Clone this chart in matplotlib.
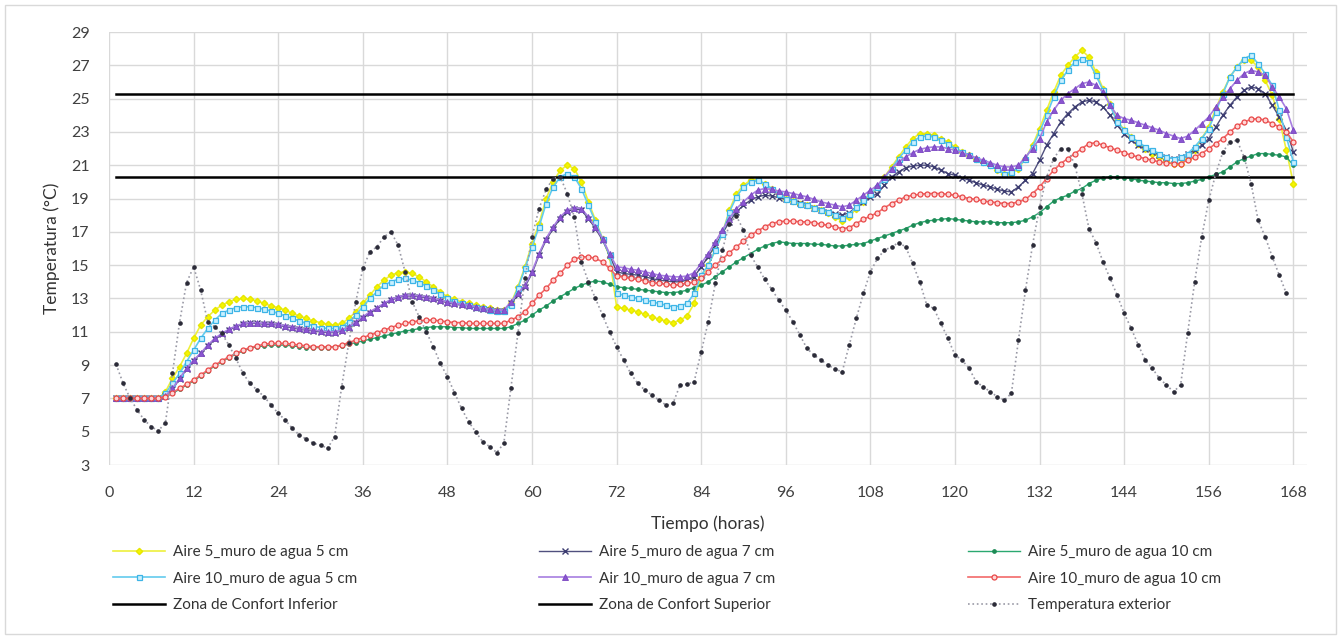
import numpy as np
import matplotlib
matplotlib.use("Agg")
import matplotlib.pyplot as plt
from matplotlib.patches import Rectangle

plt.rcParams['font.family'] = ['Lato', 'DejaVu Sans']

# ---------------- data (hourly values, hour 1..168) ----------------
aire5_agua5 = [
    7.0, 7.0, 7.0, 7.0, 7.0, 7.0, 7.0, 7.4, 8.2, 8.9, 9.7, 10.6,
    11.4, 11.9, 12.3, 12.6, 12.8, 12.95, 13.0, 12.95, 12.85, 12.7, 12.55, 12.45,
    12.3, 12.1, 11.95, 11.8, 11.65, 11.55, 11.45, 11.4, 11.5, 11.8, 12.2, 12.7,
    13.2, 13.7, 14.1, 14.4, 14.55, 14.6, 14.5, 14.3, 14.0, 13.7, 13.4, 13.1,
    12.95, 12.8, 12.7, 12.6, 12.5, 12.4, 12.3, 12.3, 12.7, 13.7, 14.9, 16.3,
    17.5, 19.0, 20.0, 20.7, 21.0, 20.8, 20.0, 18.8, 17.7, 16.6, 15.5, 12.5,
    12.4, 12.3, 12.2, 12.05, 11.9, 11.75, 11.65, 11.55, 11.7, 11.95, 12.7, 14.3,
    15.0, 15.9, 16.9, 18.3, 19.3, 19.8, 20.1, 20.1, 19.9, 19.6, 19.3, 19.0,
    18.85, 18.7, 18.6, 18.45, 18.3, 18.15, 17.9, 17.65, 17.9, 18.4, 18.8, 19.2,
    19.7, 20.3, 20.9, 21.5, 22.1, 22.6, 22.9, 22.9, 22.8, 22.6, 22.4, 22.1,
    21.8, 21.6, 21.4, 21.2, 21.0, 20.7, 20.45, 20.5, 20.8, 21.4, 22.2, 23.2,
    24.3, 25.4, 26.4, 27.0, 27.5, 27.9, 27.5, 26.6, 25.6, 24.7, 23.7, 23.1,
    22.7, 22.3, 22.0, 21.7, 21.5, 21.25, 21.05, 21.1, 21.4, 21.9, 22.6, 23.3,
    24.4, 25.4, 26.3, 26.9, 27.3, 27.3, 26.9, 26.1, 25.2, 23.8, 21.9, 19.9,
]
aire5_agua7 = [
    7.0, 7.0, 7.0, 7.0, 7.0, 7.0, 7.0, 7.15, 7.55, 8.15, 8.75, 9.25,
    9.7, 10.15, 10.55, 10.85, 11.1, 11.3, 11.45, 11.5, 11.5, 11.45, 11.45, 11.4,
    11.3, 11.25, 11.15, 11.1, 11.05, 11.0, 10.95, 10.95, 11.05, 11.25, 11.55, 11.85,
    12.15, 12.4, 12.65, 12.9, 13.05, 13.15, 13.15, 13.1, 13.05, 12.95, 12.85, 12.75,
    12.65, 12.6, 12.55, 12.45, 12.35, 12.3, 12.25, 12.25, 12.7, 13.2, 13.7, 14.5,
    15.6, 16.5, 17.2, 17.8, 18.2, 18.4, 18.3, 17.8, 17.2, 16.5, 15.6, 14.6,
    14.5, 14.45, 14.4, 14.3, 14.2, 14.1, 14.05, 14.0, 14.0, 14.1, 14.3, 14.9,
    15.5, 16.2, 16.9, 17.6, 18.2, 18.6, 18.9, 19.1, 19.2, 19.15, 19.05, 18.95,
    18.85, 18.75, 18.6, 18.45, 18.3, 18.2, 18.1, 18.0, 18.15, 18.5, 18.8, 19.1,
    19.3, 19.8, 20.3, 20.6, 20.85, 20.95, 21.0, 21.0, 20.9, 20.7, 20.5, 20.4,
    20.25, 20.1, 19.95, 19.8, 19.7, 19.55, 19.45, 19.4, 19.7, 20.1, 20.5, 21.3,
    22.2, 22.9, 23.6, 24.1, 24.5, 24.8, 24.9, 24.8, 24.5, 24.0, 23.4, 22.9,
    22.5, 22.2, 21.95, 21.8, 21.6, 21.5, 21.4, 21.5, 21.7, 21.9, 22.2, 22.6,
    23.3, 24.0, 24.6, 25.1, 25.5, 25.7, 25.6, 25.3, 24.6, 23.9, 23.1, 21.8,
]
aire5_agua10 = [
    7.0, 7.0, 7.0, 7.0, 7.0, 7.0, 7.0, 7.1, 7.3, 7.55, 7.8, 8.05,
    8.35, 8.65, 8.95, 9.2, 9.45, 9.65, 9.85, 10.0, 10.1, 10.15, 10.2, 10.2,
    10.2, 10.15, 10.1, 10.05, 10.05, 10.05, 10.05, 10.1, 10.15, 10.25, 10.35, 10.45,
    10.55, 10.65, 10.75, 10.85, 10.95, 11.05, 11.1, 11.2, 11.25, 11.3, 11.3, 11.3,
    11.25, 11.25, 11.2, 11.2, 11.2, 11.2, 11.2, 11.2, 11.3, 11.5, 11.7, 12.0,
    12.3, 12.55, 12.85, 13.1, 13.35, 13.6, 13.8, 13.95, 14.05, 14.0, 13.85, 13.7,
    13.65, 13.6, 13.55, 13.5, 13.45, 13.4, 13.35, 13.35, 13.4, 13.5, 13.65, 13.8,
    14.0, 14.3, 14.6, 14.9, 15.2, 15.45, 15.7, 15.95, 16.15, 16.3, 16.4, 16.35,
    16.3, 16.3, 16.3, 16.25, 16.25, 16.2, 16.15, 16.15, 16.2, 16.25, 16.3, 16.45,
    16.6, 16.75, 16.9, 17.05, 17.2, 17.4, 17.55, 17.65, 17.7, 17.75, 17.8, 17.75,
    17.7, 17.65, 17.6, 17.6, 17.6, 17.55, 17.55, 17.55, 17.6, 17.7, 17.9, 18.15,
    18.5, 18.85, 19.05, 19.2, 19.45, 19.6, 19.9, 20.1, 20.25, 20.3, 20.3, 20.25,
    20.2, 20.1, 20.05, 20.0, 19.95, 19.95, 19.9, 19.9, 19.95, 20.05, 20.15, 20.3,
    20.45, 20.6, 20.9, 21.2, 21.4, 21.55, 21.7, 21.7, 21.65, 21.6, 21.5, 21.0,
]
aire10_agua5 = [
    7.0, 7.0, 7.0, 7.0, 7.0, 7.0, 7.0, 7.3, 7.9, 8.5, 9.2, 9.9,
    10.6, 11.2, 11.7, 12.1, 12.3, 12.45, 12.5, 12.5, 12.45, 12.35, 12.25, 12.1,
    11.95, 11.8, 11.65, 11.5, 11.35, 11.25, 11.2, 11.2, 11.3, 11.6, 12.0, 12.5,
    13.0, 13.4, 13.8, 14.0, 14.15, 14.2, 14.1, 13.95, 13.75, 13.5, 13.25, 13.0,
    12.85, 12.7, 12.6, 12.5, 12.4, 12.3, 12.25, 12.25, 12.6, 13.6, 14.8, 16.1,
    17.3, 18.7, 19.7, 20.3, 20.5, 20.3, 19.6, 18.6, 17.6, 16.6, 15.6, 13.3,
    13.2, 13.1, 13.0, 12.9, 12.8, 12.7, 12.6, 12.5, 12.55, 12.7, 13.3, 14.4,
    15.0, 15.9, 16.9, 18.2, 19.1, 19.7, 20.0, 20.1, 19.9, 19.6, 19.3, 19.0,
    18.85, 18.7, 18.6, 18.45, 18.3, 18.2, 18.0, 17.85, 18.05, 18.5, 18.9, 19.3,
    19.7, 20.2, 20.8, 21.4, 21.9, 22.4, 22.7, 22.75, 22.7, 22.5, 22.3, 22.0,
    21.8, 21.6, 21.4, 21.2, 21.0, 20.75, 20.5, 20.6, 20.9, 21.4, 22.1, 23.0,
    24.0, 25.1, 26.1, 26.7, 27.2, 27.4, 27.2, 26.4, 25.5, 24.6, 23.6, 23.1,
    22.7, 22.4, 22.1, 21.9, 21.7, 21.5, 21.4, 21.5, 21.7, 22.1, 22.6, 23.2,
    24.2, 25.3, 26.3, 26.9, 27.4, 27.6, 27.1, 26.5, 25.8, 24.3, 22.7, 21.2,
]
aire10_agua7 = [
    7.0, 7.0, 7.0, 7.0, 7.0, 7.0, 7.0, 7.15, 7.6, 8.2, 8.8, 9.3,
    9.7, 10.2, 10.6, 10.9, 11.15, 11.35, 11.5, 11.55, 11.55, 11.5, 11.5, 11.45,
    11.35, 11.3, 11.2, 11.15, 11.1, 11.05, 11.0, 11.0, 11.1, 11.3, 11.6, 11.9,
    12.2, 12.45, 12.7, 12.95, 13.1, 13.2, 13.2, 13.15, 13.1, 13.0, 12.9, 12.8,
    12.7, 12.65, 12.6, 12.5, 12.4, 12.35, 12.3, 12.3, 12.8, 13.3, 13.8, 14.6,
    15.7, 16.6, 17.3, 17.9, 18.3, 18.45, 18.4, 17.9, 17.3, 16.6, 15.7, 14.9,
    14.85, 14.75, 14.7, 14.6, 14.5, 14.4, 14.35, 14.3, 14.3, 14.35, 14.55, 15.1,
    15.7, 16.4, 17.1, 17.8, 18.4, 18.8, 19.2, 19.5, 19.6, 19.55, 19.45, 19.4,
    19.3, 19.2, 19.1, 18.95, 18.8, 18.7, 18.6, 18.5, 18.6, 18.9, 19.2, 19.5,
    19.8, 20.3, 20.8, 21.2, 21.5, 21.75, 21.95, 22.05, 22.1, 22.1, 22.0, 21.9,
    21.75, 21.6, 21.45, 21.3, 21.15, 21.0, 20.9, 20.9, 21.0, 21.5, 22.0, 22.6,
    23.6, 24.3, 24.9, 25.3, 25.6, 25.9, 26.0, 25.8, 25.4, 24.6, 24.0, 23.8,
    23.7, 23.55, 23.4, 23.25, 23.1, 22.9, 22.75, 22.6, 22.75, 23.1, 23.5, 23.9,
    24.5, 25.1, 25.6, 26.1, 26.5, 26.7, 26.6, 26.4, 25.7, 25.1, 24.4, 23.1,
]
aire10_agua10 = [
    7.0, 7.0, 7.0, 7.0, 7.0, 7.0, 7.0, 7.1, 7.35, 7.6, 7.85, 8.1,
    8.4, 8.7, 9.0, 9.25, 9.5, 9.7, 9.9, 10.05, 10.15, 10.25, 10.3, 10.3,
    10.3, 10.25, 10.2, 10.15, 10.1, 10.1, 10.1, 10.1, 10.2, 10.35, 10.5, 10.65,
    10.8, 10.95, 11.1, 11.25, 11.4, 11.5, 11.6, 11.65, 11.7, 11.7, 11.65, 11.6,
    11.55, 11.55, 11.5, 11.5, 11.5, 11.5, 11.5, 11.5, 11.7, 11.9, 12.2, 12.7,
    13.2, 13.6, 14.1, 14.5, 15.0, 15.35, 15.5, 15.5, 15.4, 15.2, 14.8, 14.35,
    14.3, 14.2, 14.15, 14.05, 13.95, 13.9, 13.85, 13.8, 13.85, 13.9, 14.0, 14.2,
    14.6, 15.0, 15.35, 15.75, 16.1, 16.45, 16.8, 17.05, 17.3, 17.5, 17.6, 17.65,
    17.65, 17.6, 17.6, 17.55, 17.45, 17.4, 17.3, 17.2, 17.25, 17.5, 17.75, 17.95,
    18.15, 18.45, 18.7, 18.9, 19.1, 19.2, 19.25, 19.3, 19.3, 19.3, 19.25, 19.2,
    19.1, 19.0, 18.95, 18.85, 18.8, 18.75, 18.7, 18.7, 18.8, 18.95, 19.3, 19.7,
    20.2, 20.7, 21.1, 21.4, 21.7, 22.0, 22.3, 22.35, 22.2, 22.05, 21.9, 21.75,
    21.6, 21.5, 21.4, 21.3, 21.2, 21.15, 21.1, 21.1, 21.3, 21.5, 21.7, 22.0,
    22.3, 22.6, 23.0, 23.35, 23.6, 23.75, 23.8, 23.7, 23.5, 23.3, 23.0, 22.4,
]
temp_exterior = [
    9.05, 7.9, 7.0, 6.3, 5.7, 5.3, 5.05, 5.55, 8.5, 11.55, 13.95, 14.9,
    13.5, 11.6, 11.3, 10.9, 10.2, 9.4, 8.5, 7.9, 7.5, 7.1, 6.6, 6.1,
    5.7, 5.2, 4.8, 4.55, 4.3, 4.2, 4.0, 4.7, 7.7, 10.3, 12.8, 14.8,
    15.8, 16.1, 16.7, 17.0, 16.2, 14.6, 12.8, 11.9, 11.0, 10.1, 9.1, 8.3,
    7.35, 6.4, 5.6, 5.0, 4.4, 4.1, 3.75, 4.3, 7.6, 10.9, 14.2, 16.7,
    18.4, 19.55, 20.2, 20.3, 19.3, 17.9, 15.2, 14.0, 13.0, 12.0, 11.0, 10.1,
    9.3, 8.5, 7.9, 7.5, 7.2, 6.9, 6.6, 6.7, 7.8, 7.85, 8.0, 9.8,
    11.6, 13.9, 15.9, 17.5, 17.95, 17.1, 15.6, 14.9, 14.15, 13.55, 12.9, 12.3,
    11.6, 10.8, 10.0, 9.6, 9.3, 9.0, 8.75, 8.6, 10.2, 11.8, 13.3, 14.6,
    15.4, 15.9, 16.1, 16.35, 16.1, 15.1, 14.0, 12.6, 12.4, 11.5, 10.6, 9.6,
    9.3, 8.8, 8.0, 7.7, 7.4, 7.1, 6.9, 7.3, 10.5, 13.5, 16.2, 18.5,
    20.3, 21.4, 22.0, 22.0, 21.0, 19.3, 17.2, 16.35, 15.2, 14.2, 13.2, 12.1,
    11.2, 10.2, 9.3, 8.8, 8.2, 7.8, 7.4, 7.8, 10.9, 14.0, 16.7, 18.9,
    20.5, 21.8, 22.4, 22.5, 21.5, 19.9, 17.7, 16.7, 15.5, 14.4, 13.3,
]
confort_inferior = 20.3
confort_superior = 25.3
hora_inicio, hora_fin = 1, 168
x_ticks = list(range(0, 169, 12))
y_ticks = list(range(3, 30, 2))

labels = ["Aire 5_muro de agua 5 cm", "Aire 5_muro de agua 7 cm",
          "Aire 5_muro de agua 10 cm", "Aire 10_muro de agua 5 cm",
          "Air 10_muro de agua 7 cm", "Aire 10_muro de agua 10 cm",
          "Zona de Confort Inferior", "Zona de Confort Superior",
          "Temperatura exterior"]

# ---------------- figure ----------------
fig = plt.figure(figsize=(13.41, 6.39), dpi=100)
fig.patches.append(Rectangle((0.004, 0.008), 0.992, 0.984, transform=fig.transFigure,
                             fill=False, ec='#d9d9d9', lw=1.0))
ax = fig.add_axes([0.0813, 0.2723, 0.8937, 0.6776])

def hrs(s):
    return np.arange(1, len(s) + 1)

styles = [
    (aire5_agua5, dict(color='#eef03c', marker='D', ms=3.2, mfc='#f5f500', mec='#e6e600', lw=1.2)),
    (aire5_agua7, dict(color='#50507e', marker='x', ms=4.0, mec='#3c3c70', mew=1.0, lw=1.0)),
    (aire5_agua10, dict(color='#2aa870', marker='o', ms=2.4, mfc='#1d8a55', mec='#1d8a55', lw=1.0)),
    (aire10_agua5, dict(color='#62cbee', marker='s', ms=3.6, mfc='#c8f0ff', mec='#3db4e6', mew=0.9, lw=1.2)),
    (aire10_agua7, dict(color='#a77ee0', marker='^', ms=4.0, mfc='#8a55d0', mec='#7a45c0', mew=0.6, lw=1.2)),
    (aire10_agua10, dict(color='#f26a6a', marker='o', ms=3.6, mfc='#ffd6d6', mec='#e84848', mew=0.9, lw=1.2)),
]
handles = []
for (data, st), lab in zip(styles, labels[:6]):
    h, = ax.plot(hrs(data), data, label=lab, zorder=3, **st)
    handles.append(h)

h_inf, = ax.plot([hora_inicio, hora_fin], [confort_inferior] * 2, color='black', lw=1.8,
                 zorder=4, label=labels[6])
h_sup, = ax.plot([hora_inicio, hora_fin], [confort_superior] * 2, color='black', lw=1.8,
                 zorder=4, label=labels[7])
h_ext, = ax.plot(hrs(temp_exterior), temp_exterior, color='#9a9aa6', ls=':', lw=1.2,
                 marker='o', ms=2.3, mfc='#2b2b38', mec='#2b2b38', zorder=5, label=labels[8])

ax.set_xlim(0, 170)
ax.set_ylim(3, 29)
ax.set_xticks(x_ticks)
ax.set_yticks(y_ticks)
ax.grid(True, color='#d9d9d9', lw=1.0, zorder=0)
ax.set_axisbelow(True)
for sp in ax.spines.values():
    sp.set_visible(False)
ax.tick_params(length=0, labelsize=11.5, colors='#404040')
ax.tick_params(axis='y', pad=14)
ax.tick_params(axis='x', pad=15)
ax.set_xlabel('Tiempo (horas)', fontsize=12.5, color='#333333', labelpad=11)
ax.set_ylabel('Temperatura (°C)', fontsize=12.5, color='#333333', labelpad=8)

columns = [
    ([handles[0], handles[3], h_inf], 113),
    ([handles[1], handles[4], h_sup], 539),
    ([handles[2], handles[5], h_ext], 968),
]
for hs, xpix in columns:
    lg = fig.legend(hs, [o.get_label() for o in hs], ncol=1, loc='upper left',
                    bbox_to_anchor=(xpix / 1341, 1 - 545 / 639),
                    bbox_transform=fig.transFigure, frameon=False, fontsize=11,
                    handlelength=3.4, handletextpad=0.5, labelspacing=0.82,
                    borderaxespad=0, borderpad=0)
    for t in lg.get_texts():
        t.set_color('#333333')

fig.savefig('out.png', dpi=100)
